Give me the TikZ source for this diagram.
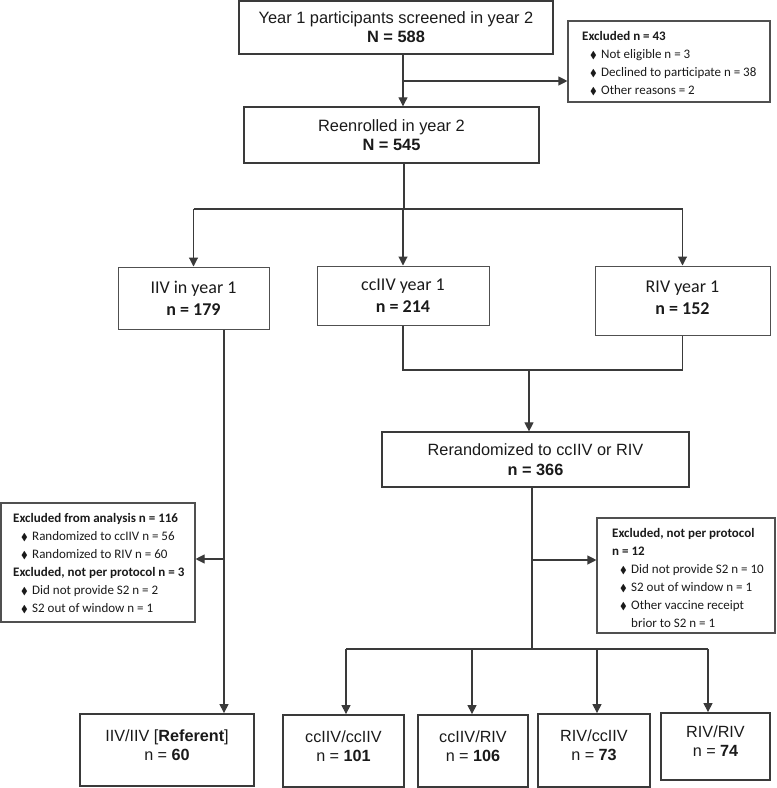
\documentclass[tikz,border=0pt]{standalone}
\usepackage{fontspec}
\usepackage{amssymb}
\setmainfont{Liberation Sans}
\newfontfamily\calib{Carlito}
\usetikzlibrary{arrows.meta}
\definecolor{linegray}{HTML}{3A3A3A}
\definecolor{boxgray}{HTML}{505050}
\definecolor{txt}{HTML}{1A1A1A}
\newcommand{\dmd}{{\fontsize{10}{10}\selectfont$\blacklozenge$}}
\newcommand{\bul}{\hspace*{8pt}\makebox[11pt][l]{\dmd}}
\newcommand{\cont}{\hspace*{19pt}}
\begin{document}
\begin{tikzpicture}[x=1pt,y=-1pt,
  conn/.style={draw=linegray, line width=1.1pt},
  arr/.style={conn, -{Triangle[length=9pt,width=9pt]}},
  abox/.style={draw=linegray, line width=1.4pt, inner sep=0pt, align=center, text=txt,
    font=\fontsize{16.4}{19}\selectfont},
  cbox/.style={draw=boxgray, line width=1pt, inner sep=0pt, align=center, text=txt,
    font=\calib\fontsize{18}{22}\selectfont},
  rbox/.style={draw=linegray, line width=1.2pt, inner sep=0pt, align=center, text=txt,
    font=\fontsize{16.3}{20}\selectfont},
  bbox/.style={draw=linegray, line width=1.8pt, inner sep=0pt, align=center, text=txt,
    font=\fontsize{16.2}{19}\selectfont},
  ebox/.style={draw=boxgray, line width=1.1pt, inner sep=0pt},
  etext/.style={inner sep=0pt, anchor=north west, align=left, text=txt,
    font=\calib\fontsize{13}{18}\selectfont}
]
\useasboundingbox (0,0) rectangle (777,788);

% top level
\node[abox, minimum width=314pt, minimum height=53pt] (top) at (396,27.5)
  {Year 1 participants screened in year 2\\\textbf{N = 588}};
\node[ebox, minimum width=202pt, minimum height=81pt] (excl1) at (669,61.5) {};
\node[etext] (excl1t) at (582,30.7)
  {\textbf{Excluded n = 43}\\
   \bul Not eligible n = 3\\
   \bul Declined to participate n = 38\\
   \bul Other reasons = 2};
\node[abox, minimum width=295pt, minimum height=56pt] (reen) at (391.5,135)
  {Reenrolled in year 2\\\textbf{N = 545}};

\coordinate (b1) at (403,81);
\draw[arr] (top.south -| b1) -- (reen.north -| b1);
\draw[arr] (b1) -- (excl1.west |- b1);

% year 1 groups
\node[cbox, minimum width=151pt, minimum height=62pt] (iiv) at (193.5,298)
  {IIV in year 1\\\textbf{n = 179}};
\node[cbox, minimum width=172pt, minimum height=59pt] (cc) at (403,295.5)
  {ccIIV year 1\\\textbf{n = 214}};
\node[cbox, minimum width=175pt, minimum height=69pt] (riv) at (682.5,300.5)
  {RIV year 1\\\textbf{n = 152}\rule[-6pt]{0pt}{6pt}};

\coordinate (j1) at (404,209);
\draw[conn] (reen.south -| j1) -- (j1);
\draw[conn] (iiv.north |- j1) -- (riv.north |- j1);
\draw[arr] (iiv.north |- j1) -- (iiv.north);
\draw[arr] (cc.north |- j1) -- (cc.north);
\draw[arr] (riv.north |- j1) -- (riv.north);

% rerandomized
\node[rbox, minimum width=307pt, minimum height=55pt] (rer) at (535.5,459.5)
  {Rerandomized to ccIIV or RIV\\\textbf{n = 366}};
\coordinate (j2) at (529,370);
\draw[conn] (cc.south) -- (cc.south |- j2) -- (riv.south |- j2) -- (riv.south);
\draw[arr] (j2) -- (rer.north -| j2);

% exclusions
\node[ebox, minimum width=194pt, minimum height=119pt] (excl2) at (98,562.5) {};
\node[etext] (excl2t) at (13,512.7)
  {\textbf{Excluded from analysis n = 116}\\
   \bul Randomized to ccIIV n = 56\\
   \bul Randomized to RIV n = 60\\
   \textbf{Excluded, not per protocol n = 3}\\
   \bul Did not provide S2 n = 2\\
   \bul S2 out of window n = 1};
\node[ebox, minimum width=178pt, minimum height=115pt] (excl3) at (686,575.5) {};
\node[etext] (excl3t) at (612,527.7)
  {\textbf{Excluded, not per protocol}\\
   \textbf{n = 12}\\
   \bul Did not provide S2 n = 10\\
   \bul S2 out of window n = 1\\
   \bul Other vaccine receipt\\
   \cont brior to S2 n = 1};

% final groups
\node[bbox, minimum width=174pt, minimum height=72pt] (g0) at (167,750)
  {IIV/IIV [\textbf{Referent}]\\n = \textbf{60}\rule[-10pt]{0pt}{10pt}};
\node[bbox, minimum width=121pt, minimum height=72pt] (g1) at (343.5,751)
  {ccIIV/ccIIV\\n = \textbf{101}\rule[-10pt]{0pt}{10pt}};
\node[bbox, minimum width=110pt, minimum height=72pt] (g2) at (473,751)
  {ccIIV/RIV\\n = \textbf{106}\rule[-10pt]{0pt}{10pt}};
\node[bbox, minimum width=112pt, minimum height=73pt] (g3) at (594,750.5)
  {RIV/ccIIV\\n = \textbf{73}\rule[-10pt]{0pt}{10pt}};
\node[bbox, minimum width=109pt, minimum height=67pt] (g4) at (715.5,746.5)
  {RIV/RIV\\n = \textbf{74}\rule[-10pt]{0pt}{10pt}};

\coordinate (j5) at (224,559);
\draw[arr] (iiv.south -| j5) -- (g0.north -| j5);
\draw[arr] (j5) -- (excl2.east |- j5);

\coordinate (j3) at (532,649);
\coordinate (j4) at (532,560);
\draw[conn] (rer.south -| j3) -- (j3);
\draw[arr] (j4) -- (excl3.west |- j4);
\coordinate (a1) at (346,649);
\coordinate (a2) at (472,649);
\coordinate (a3) at (597,649);
\coordinate (a4) at (708,649);
\draw[conn] (a1) -- (a4);
\draw[arr] (a1) -- (g1.north -| a1);
\draw[arr] (a2) -- (g2.north -| a2);
\draw[arr] (a3) -- (g3.north -| a3);
\draw[arr] (a4) -- (g4.north -| a4);
\end{tikzpicture}
\end{document}
